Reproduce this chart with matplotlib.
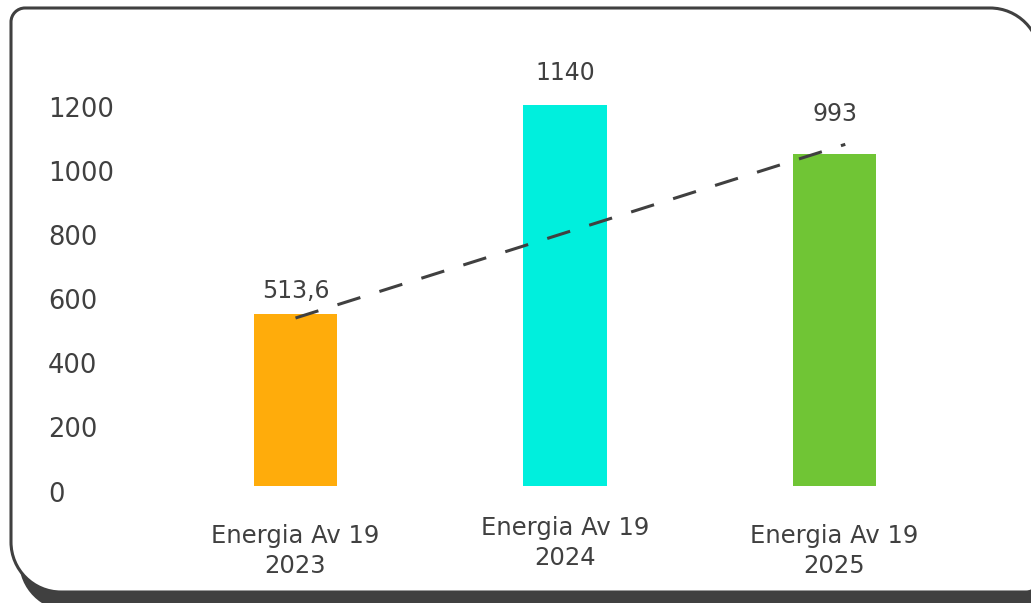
import matplotlib
matplotlib.use("Agg")
import matplotlib.pyplot as plt
from matplotlib.path import Path
from matplotlib.patches import PathPatch
from matplotlib.transforms import ScaledTranslation

# ---------------- data ----------------
categories = ["Energia Av 19\n2023", "Energia Av 19\n2024", "Energia Av 19\n2025"]
values = [513.6, 1140, 993]
value_labels = ["513,6", "1140", "993"]
bar_colors = ["#FFAC0B", "#00EFDD", "#70C535"]
ytick_values = [0, 200, 400, 600, 800, 1000, 1200]
ytick_labels = ["0", "200", "400", "600", "800", "1000", "1200"]
trend_x = [0, 2.04]
trend_y = [502, 1021]

# ---------------- style ----------------
W, H, DPI = 1031, 603, 100
TEXT = "#404040"
FONT = ["DejaVu Sans"]
label_offsets_pt = [16.5, 22.5, 28.5]
cat_raise_px = [0, 8, 0]

plt.rcParams["font.family"] = FONT
fig = plt.figure(figsize=(W / DPI, H / DPI), dpi=DPI)
fig.patch.set_facecolor("white")


def px(x, y):
    return (x / W, (H - y) / H)


def frame_path(x0, y0, x1, y1, rtl, rtr, rbr, rbl):
    k = 0.5523
    verts, codes = [], []

    def mv(x, y):
        verts.append(px(x, y)); codes.append(Path.MOVETO)

    def ln(x, y):
        verts.append(px(x, y)); codes.append(Path.LINETO)

    def cb(c1, c2, e):
        for p in (c1, c2, e):
            verts.append(px(*p)); codes.append(Path.CURVE4)

    mv(x0 + rtl, y0)
    ln(x1 - rtr, y0)
    cb((x1 - rtr + k * rtr, y0), (x1, y0 + rtr - k * rtr), (x1, y0 + rtr))
    ln(x1, y1 - rbr)
    cb((x1, y1 - rbr + k * rbr), (x1 - rbr + k * rbr, y1), (x1 - rbr, y1))
    ln(x0 + rbl, y1)
    cb((x0 + rbl - k * rbl, y1), (x0, y1 - rbl + k * rbl), (x0, y1 - rbl))
    ln(x0, y0 + rtl)
    cb((x0, y0 + rtl - k * rtl), (x0 + rtl - k * rtl, y0), (x0 + rtl, y0))
    codes.append(Path.CLOSEPOLY); verts.append(px(x0 + rtl, y0))
    return Path(verts, codes)


shadow = PathPatch(frame_path(19, 17, 1048, 603 + 8, 14, 50, 14, 50),
                   transform=fig.transFigure, facecolor=TEXT, edgecolor="none", zorder=0)
frame = PathPatch(frame_path(11, 8, 1040, 592, 14, 50, 14, 50),
                  transform=fig.transFigure, facecolor="white", edgecolor=TEXT,
                  linewidth=2.2, zorder=1)
fig.add_artist(shadow)
fig.add_artist(frame)

# ---------------- tick-label axis (value scale of the labels) ----------------
axl = fig.add_axes([130 / W, (H - 520) / H, 870 / W, 460 / H])
axl.set_zorder(2)
axl.patch.set_visible(False)
axl.set_ylim(-79.2, 1354.7)
axl.set_xticks([])
axl.set_yticks(ytick_values)
axl.set_yticklabels(ytick_labels, fontsize=18.5, color=TEXT, ha="left", va="center")
axl.tick_params(axis="y", length=0, pad=59)
for s in axl.spines.values():
    s.set_visible(False)

# ---------------- bar axis ----------------
ax = fig.add_axes([130 / W, (H - 486) / H, 870 / W, 426 / H])
ax.set_zorder(3)
ax.patch.set_visible(False)
x = list(range(len(categories)))
ax.bar(x, values, width=0.308, color=bar_colors, zorder=3)
ax.plot(trend_x, trend_y, color=TEXT, linewidth=2.2, dashes=(7.85, 6.55),
        dash_capstyle="butt", zorder=4)
ax.set_xlim(-0.6141, 2.6141)
ax.set_ylim(0, 1273)
ax.set_yticks([])
ax.set_xticks(x)
ax.set_xticklabels(categories, fontsize=17.5, color=TEXT, linespacing=1.35)
ax.tick_params(axis="x", length=0, pad=27)
for lab, dy in zip(ax.get_xticklabels(), cat_raise_px):
    lab.set_transform(lab.get_transform() + ScaledTranslation(0, dy / DPI, fig.dpi_scale_trans))
for s in ax.spines.values():
    s.set_visible(False)

for xi, v, t, off in zip(x, values, value_labels, label_offsets_pt):
    ax.annotate(t, (xi, v), xytext=(0, off), textcoords="offset points",
                ha="center", va="center", fontsize=17, color=TEXT, zorder=5)

fig.savefig("out.png", dpi=DPI)
